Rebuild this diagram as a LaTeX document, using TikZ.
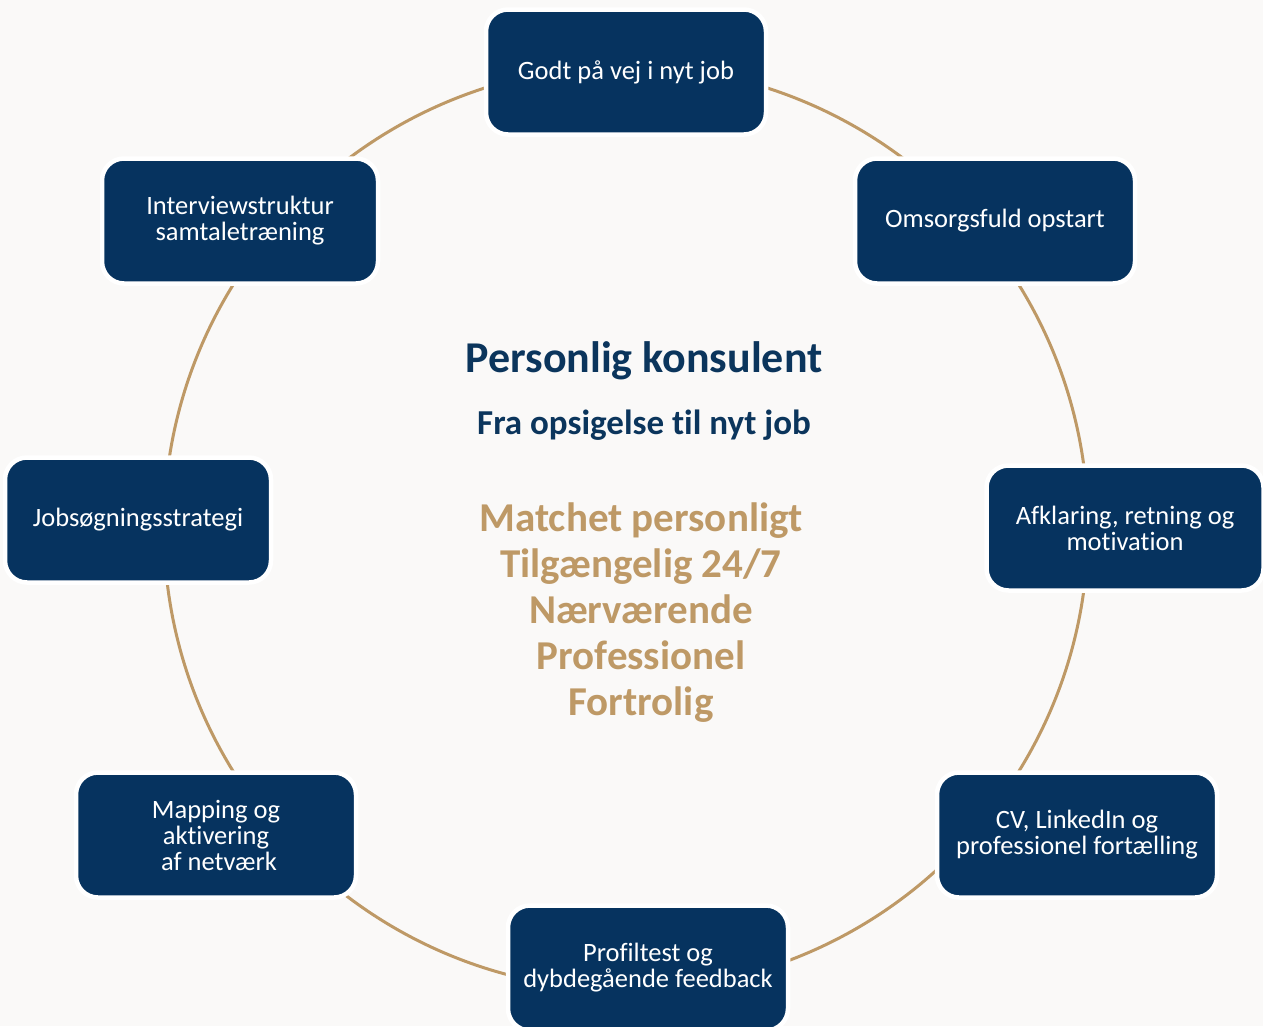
\documentclass[tikz,border=0pt]{standalone}
\usepackage{fontspec}
\setmainfont{Carlito}[Ligatures=NoCommon]
\definecolor{navy}{HTML}{06335F}
\definecolor{gold}{HTML}{BE9966}
\definecolor{paper}{HTML}{FAF9F8}
\definecolor{titleblue}{HTML}{0B355C}
\begin{document}
\begin{tikzpicture}[
  x=1pt, y=-1pt,
  every node/.style={align=center, inner sep=0pt},
  stepbox/.style={rounded corners=22pt, draw=white, line width=4.5pt, fill=navy,
    text=white, minimum width=280pt, minimum height=125pt,
    font=\fontsize{26.5}{26}\selectfont},
  ring/.style={draw=gold, line width=3pt},
  headline/.style={text=titleblue, font=\bfseries\fontsize{44}{48}\selectfont},
  subline/.style={text=titleblue, font=\bfseries\fontsize{35}{38}\selectfont},
  values/.style={text=gold, font=\bfseries\fontsize{41}{46}\selectfont}
]
\fill[paper] (0,0) rectangle (1263,1026);
\useasboundingbox (0,0) rectangle (1263,1026);
% ring behind the steps
\coordinate (mid) at (626,528);
\draw[ring] (mid) circle (462pt);
% steps, clockwise from the top
\node[stepbox] (godt) at (626,72) {Godt på vej i nyt job};
\node[stepbox] (omsorg) at (995,221) {Omsorgsfuld opstart};
\node[stepbox, minimum width=277pt] (afklaring) at (1125,528) {Afklaring, retning og\\motivation};
\node[stepbox] (cv) at (1077,835) {CV, LinkedIn og\\professionel fortælling};
\node[stepbox] (profil) at (648,968) {Profiltest og\\dybdegående feedback};
\node[stepbox] (mapping) at (216,835) {Mapping og\\aktivering\\\ af netværk};
\node[stepbox, minimum width=266pt] (jobsoeg) at (138,520) {Jobsøgningsstrategi};
\node[stepbox, minimum width=276pt] (interview) at (240,221) {Interviewstruktur\\samtaletræning};
% centre
\node[headline] (title) at (644,361) {Personlig konsulent};
\node[subline] (sub) at (644,425) {Fra opsigelse til nyt job};
\node[values] (vals) at (641,613) {Matchet personligt\\Tilgængelig 24/7\\Nærværende\\Professionel\\Fortrolig};
\end{tikzpicture}
\end{document}
